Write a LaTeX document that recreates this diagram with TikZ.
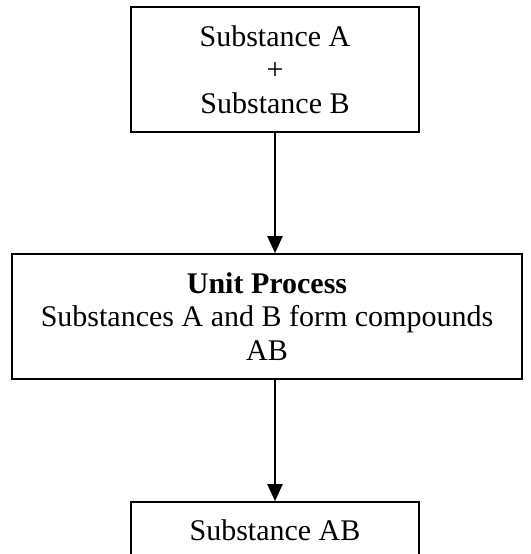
\documentclass[tikz,border=0pt]{standalone}
\usepackage{fontspec}
\setmainfont{Liberation Serif}
\usetikzlibrary{positioning,arrows.meta}

\begin{document}
\begin{tikzpicture}[
  x=1pt, y=1pt,
  font=\fontsize{30pt}{33.5pt}\selectfont,
  box/.style={draw=black, line width=1.6pt, inner sep=0pt, align=center, minimum height=125pt},
  flow/.style={-{Triangle[length=17pt,width=15pt]}, draw=black, line width=2.2pt}
]
\useasboundingbox (0,0) rectangle (530,554);

\node[box, minimum width=288pt] (input) at (275, 484.5) {Substance A\\+\\Substance B};
\node[box, minimum width=510pt] (process) at (267, 237.5) {\textbf{Unit Process}\\Substances A and B form compounds\\AB};
\node[box, minimum width=288pt] (output) at (275, -10.5) {};
\node[below=18pt of output.north, inner sep=0pt] (outtext) {Substance AB};

\draw[flow] (input.south) -- (input.south |- process.north);
\draw[flow] (output.north |- process.south) -- (output.north);
\end{tikzpicture}
\end{document}
